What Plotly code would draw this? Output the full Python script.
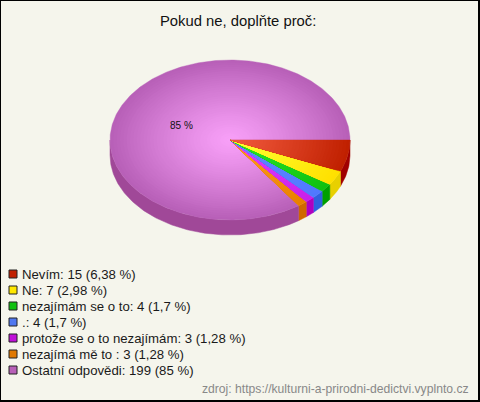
import numpy as np
import plotly.graph_objects as go

title = "Pokud ne, doplňte proč:"
source = "zdroj: https://kulturni-a-prirodni-dedictvi.vyplnto.cz"
categories = ["Nevím", "Ne", "nezajímám se o to", ".", "protože se o to nezajímám", "nezajímá mě to ", "Ostatní odpovědi"]
values = [15, 7, 4, 4, 3, 3, 199]
percent_labels = ["6,38", "2,98", "1,7", "1,7", "1,28", "1,28", "85"]
center_colors = ["#f0583c", "#ffff30", "#28e428", "#6088ff", "#e040ff", "#ff9c20", "#f8a0f8"]
edge_colors = ["#c02000", "#ffe000", "#10c010", "#5078ff", "#c820e8", "#e88000", "#b860b8"]
side_colors = ["#a00000", "#e8d000", "#00a000", "#3060e0", "#b000c0", "#d06800", "#a04898"]
legend_colors = ["#c02000", "#ffe800", "#10c010", "#5078f0", "#c010d8", "#e07800", "#b860b8"]

BG = "#f5f5ec"
CX, CY, RX, RY, DEPTH = 230, 140, 120, 80, 15
RINGS = 36


def hex_rgb(h):
    return np.array([int(h[i:i + 2], 16) for i in (1, 3, 5)], dtype=float)


def mix(a, b, t):
    c = hex_rgb(a) * (1 - t) + hex_rgb(b) * t
    return "rgb(%d,%d,%d)" % tuple(np.round(c))


def arc(a0, a1, scale=1.0, dy=0.0):
    n = max(3, int(abs(a1 - a0) * 1.5))
    th = np.radians(np.linspace(a0, a1, n))
    return CX + RX * scale * np.cos(th), CY + dy + RY * scale * np.sin(th)


fig = go.Figure()
total = sum(values)
edges = np.concatenate([[0], np.cumsum(values) / total * 360])

# side walls (only the part of each slice facing the viewer)
for i, col in enumerate(side_colors):
    a0, a1 = edges[i], min(edges[i + 1], 180)
    if a0 >= 180:
        continue
    x0, y0 = arc(a0, a1)
    x1, y1 = arc(a1, a0, dy=DEPTH)
    fig.add_trace(go.Scatter(x=np.r_[x0, x1, x0[0]], y=np.r_[y0, y1, y0[0]], mode="lines",
                             fill="toself", fillcolor=col, line=dict(color=col, width=0.5),
                             hoverinfo="skip", showlegend=False))

# top face with a radial shade; the big slice first so the thin ones stay on top
for i in reversed(range(len(values))):
    for k in range(RINGS):
        s = 1 - k / RINGS
        col = mix(center_colors[i], edge_colors[i], s ** 1.2)
        x, y = arc(edges[i], edges[i + 1], scale=s)
        fig.add_trace(go.Scatter(x=np.r_[CX, x, CX], y=np.r_[CY, y, CY], mode="lines",
                                 fill="toself", fillcolor=col,
                                 line=dict(color=col, width=0.4 if k == 0 else 0),
                                 hoverinfo="skip", showlegend=False))

# legend
LEG_TOP, LEG_STEP = 274, 16
ys = [LEG_TOP + LEG_STEP * i for i in range(len(values))]
fig.add_trace(go.Scatter(x=[13] * len(values), y=ys, mode="markers",
                         marker=dict(symbol="square", size=8, color=legend_colors,
                                     line=dict(color="#222222", width=1)),
                         hoverinfo="skip", showlegend=False))
annotations = []
for c, v, p, y in zip(categories, values, percent_labels, ys):
    annotations.append(dict(x=19.5, y=y, xref="x", yref="y", xanchor="left", yanchor="middle", showarrow=False,
                            text=f"{c}: {v} ({p} %)", font=dict(family="Liberation Sans", size=13.2, color="#1a1a1a")))
annotations.append(dict(x=237.5, y=21, xref="x", yref="y", xanchor="center", yanchor="middle", showarrow=False,
                        text=title, font=dict(family="Liberation Sans", size=14.8, color="#111111")))
annotations.append(dict(x=181, y=125, xref="x", yref="y", xanchor="center", yanchor="middle", showarrow=False,
                        text=f"{percent_labels[-1]} %", font=dict(family="Liberation Sans", size=10, color="#111111")))
annotations.append(dict(x=471, y=389, xref="x", yref="y", xanchor="right", yanchor="middle", showarrow=False,
                        text=source, font=dict(family="Liberation Sans", size=12.15, color="#888888")))

fig.update_layout(
    width=480, height=402, margin=dict(l=0, r=0, t=0, b=0),
    paper_bgcolor=BG, plot_bgcolor=BG, showlegend=False, annotations=annotations,
    xaxis=dict(range=[0, 480], visible=False, fixedrange=True),
    yaxis=dict(range=[402, 0], visible=False, fixedrange=True),
    shapes=[dict(type="rect", xref="x", yref="y", x0=0, y0=0, x1=479, y1=401,
                 line=dict(color="#000000", width=2), fillcolor="rgba(0,0,0,0)")],
)
fig.write_html("out.html", config={"displayModeBar": False},
               post_script="document.body.style.margin='0';document.body.style.overflow='hidden';")
